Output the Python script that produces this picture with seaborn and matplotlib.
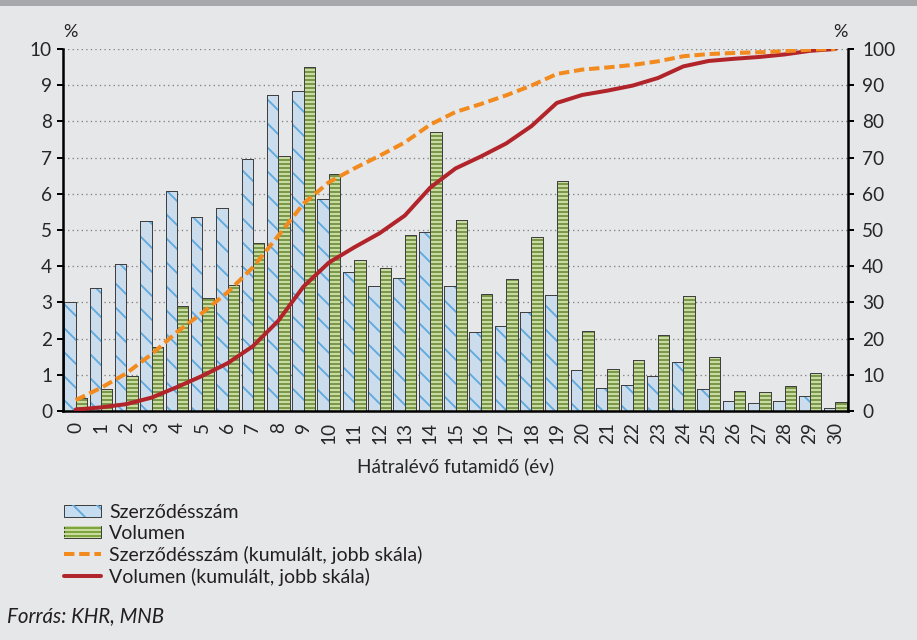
import matplotlib
matplotlib.use("Agg")
import matplotlib.pyplot as plt
from matplotlib.patches import Rectangle, Patch
from matplotlib.lines import Line2D
import pandas as pd
import seaborn as sns

# hátralévő futamidő (év)
years = list(range(31))

# megoszlás, % (bal skála)
szerzodes = [3.0, 3.4, 4.05, 5.25, 6.07, 5.37, 5.62, 6.97, 8.73, 8.85,
             5.87, 3.84, 3.44, 3.68, 4.95, 3.44, 2.18, 2.35, 2.74, 3.2,
             1.12, 0.64, 0.72, 0.97, 1.34, 0.61, 0.28, 0.23, 0.28, 0.41, 0.07]
volumen = [0.36, 0.6, 0.96, 1.77, 2.91, 3.11, 3.47, 4.65, 7.04, 9.49,
           6.54, 4.17, 3.96, 4.85, 7.72, 5.29, 3.22, 3.64, 4.81, 6.34,
           2.22, 1.16, 1.41, 2.09, 3.19, 1.49, 0.56, 0.52, 0.68, 1.04, 0.24]

# kumulált, % (jobb skála)
szerzodes_kum = [3.0, 6.4, 10.4, 15.7, 21.8, 27.1, 32.8, 39.7, 48.4, 57.3,
                 63.2, 67.0, 70.5, 74.2, 79.1, 82.6, 84.8, 87.2, 89.9, 93.1,
                 94.3, 94.9, 95.6, 96.6, 98.0, 98.6, 98.9, 99.1, 99.4, 99.8, 100.0]
volumen_kum = [0.4, 1.0, 1.9, 3.7, 6.6, 9.7, 13.2, 17.9, 24.9, 34.4,
               41.0, 45.2, 49.1, 54.0, 61.7, 67.0, 70.3, 73.9, 78.7, 85.1,
               87.3, 88.5, 89.9, 92.0, 95.2, 96.7, 97.3, 97.8, 98.5, 99.5, 100.0]

labels = ["Szerződésszám", "Volumen",
          "Szerződésszám (kumulált, jobb skála)", "Volumen (kumulált, jobb skála)"]

BG = "#E6E7E9"
BLUE, BLUE_HATCH = "#C6DDF1", "#5DA8DE"
GREEN, GREEN_HATCH = "#7DA53C", "#D2E3AC"
ORANGE, RED = "#F28A1E", "#B0242A"
EDGE = "#404040"

sns.set_style("white")
plt.rcParams["font.family"] = ["Lato", "DejaVu Sans"]
plt.rcParams["hatch.linewidth"] = 1.8
plt.rcParams["text.color"] = "#231F20"

# dpi 72: 1 pt == 1 px
fig = plt.figure(figsize=(917 / 72, 640 / 72), dpi=72, facecolor=BG)
ax = fig.add_axes([63 / 917, 1 - 411 / 640, (848 - 63) / 917, (411 - 49) / 640])
ax.set_facecolor(BG)

bars = pd.DataFrame({
    "ev": years * 2,
    "ertek": szerzodes + volumen,
    "sor": [labels[0]] * len(years) + [labels[1]] * len(years),
})
sns.barplot(data=bars, x="ev", y="ertek", hue="sor",
            palette={labels[0]: BLUE, labels[1]: GREEN},
            width=0.9, edgecolor=EDGE, linewidth=1, ax=ax, legend=False, zorder=2)

hatches = [("\\", BLUE_HATCH), ("---", GREEN_HATCH)]
for cont, (h, hc) in zip(ax.containers, hatches):
    for b in cont:
        ax.add_patch(Rectangle(b.get_xy(), b.get_width(), b.get_height(),
                               facecolor="none", edgecolor=hc, hatch=h,
                               lw=0, zorder=2.1))
        ax.add_patch(Rectangle(b.get_xy(), b.get_width(), b.get_height(),
                               facecolor="none", edgecolor=EDGE, lw=1, zorder=2.2))

ax.set_xlim(-0.5, 30.5)
ax.set_ylim(0, 10)
ax.set_yticks(range(0, 11))
ax.set_ylabel("")
ax.set_xlabel("Hátralévő futamidő (év)", fontsize=19)
ax.xaxis.set_label_coords(0.5, (411 - 466) / (411 - 49))
ax.xaxis.label.set_va("center")
ax.grid(axis="y", color="#7F7F7F", linestyle=(0, (1, 2.5)), linewidth=1.3, zorder=0)
ax.set_axisbelow(True)

ax.set_xticks(years)
ax.set_xticklabels([str(y) for y in years], rotation=90)
ax.set_xticks([y - 0.5 for y in years] + [30.5], minor=True)
ax.tick_params(axis="x", which="major", length=0, pad=11, labelsize=19)
ax.tick_params(axis="x", which="minor", length=6, width=2, color="black", direction="out")
ax.tick_params(axis="y", length=6, width=2, color="black", direction="out", pad=5, labelsize=19)

for s in ["top", "right"]:
    ax.spines[s].set_visible(False)
for s in ["left", "bottom"]:
    ax.spines[s].set_color("black")
    ax.spines[s].set_linewidth(2.5)

ax2 = ax.twinx()
sns.lineplot(x=years, y=volumen_kum, ax=ax2, color=RED, linewidth=4, zorder=3)
sns.lineplot(x=years, y=szerzodes_kum, ax=ax2, color=ORANGE, linewidth=4,
             linestyle=(0, (2.6, 1.2)), zorder=4)
ax2.set_ylim(0, 100)
ax2.set_yticks(range(0, 101, 10))
ax2.set_ylabel("")
ax2.tick_params(axis="y", length=6, width=2, color="black", direction="out", pad=8, labelsize=19)
for s in ["top", "left", "bottom"]:
    ax2.spines[s].set_visible(False)
ax2.spines["right"].set_color("black")
ax2.spines["right"].set_linewidth(2.5)

fig.text(70 / 917, 1 - 32 / 640, "%", ha="center", va="center", fontsize=18)
fig.text(840 / 917, 1 - 32 / 640, "%", ha="center", va="center", fontsize=18)

# felső sáv
fig.add_artist(Rectangle((0, 1 - 6 / 640), 1, 6 / 640, transform=fig.transFigure,
                         facecolor="#A7A8AB", lw=0))

handles = [
    (Patch(facecolor=BLUE, edgecolor=EDGE, lw=1),
     Patch(facecolor="none", edgecolor=BLUE_HATCH, hatch="\\", lw=0)),
    (Patch(facecolor=GREEN, edgecolor=EDGE, lw=1),
     Patch(facecolor="none", edgecolor=GREEN_HATCH, hatch="---", lw=0)),
    Line2D([], [], color=ORANGE, lw=4, linestyle=(0, (2.6, 1.2))),
    Line2D([], [], color=RED, lw=4),
]
fig.legend(handles, labels, loc="upper left", bbox_to_anchor=(64 / 917, 1 - 504 / 640),
           frameon=False, fontsize=19.5, handlelength=1.9, handleheight=0.6,
           handletextpad=0.41, labelspacing=0.2, borderpad=0, borderaxespad=0)

fig.text(7 / 917, 1 - 616 / 640, "Forrás: KHR, MNB", ha="left", va="center",
         fontsize=20.5, style="italic")

fig.savefig("out.png", dpi=72, facecolor=BG)
